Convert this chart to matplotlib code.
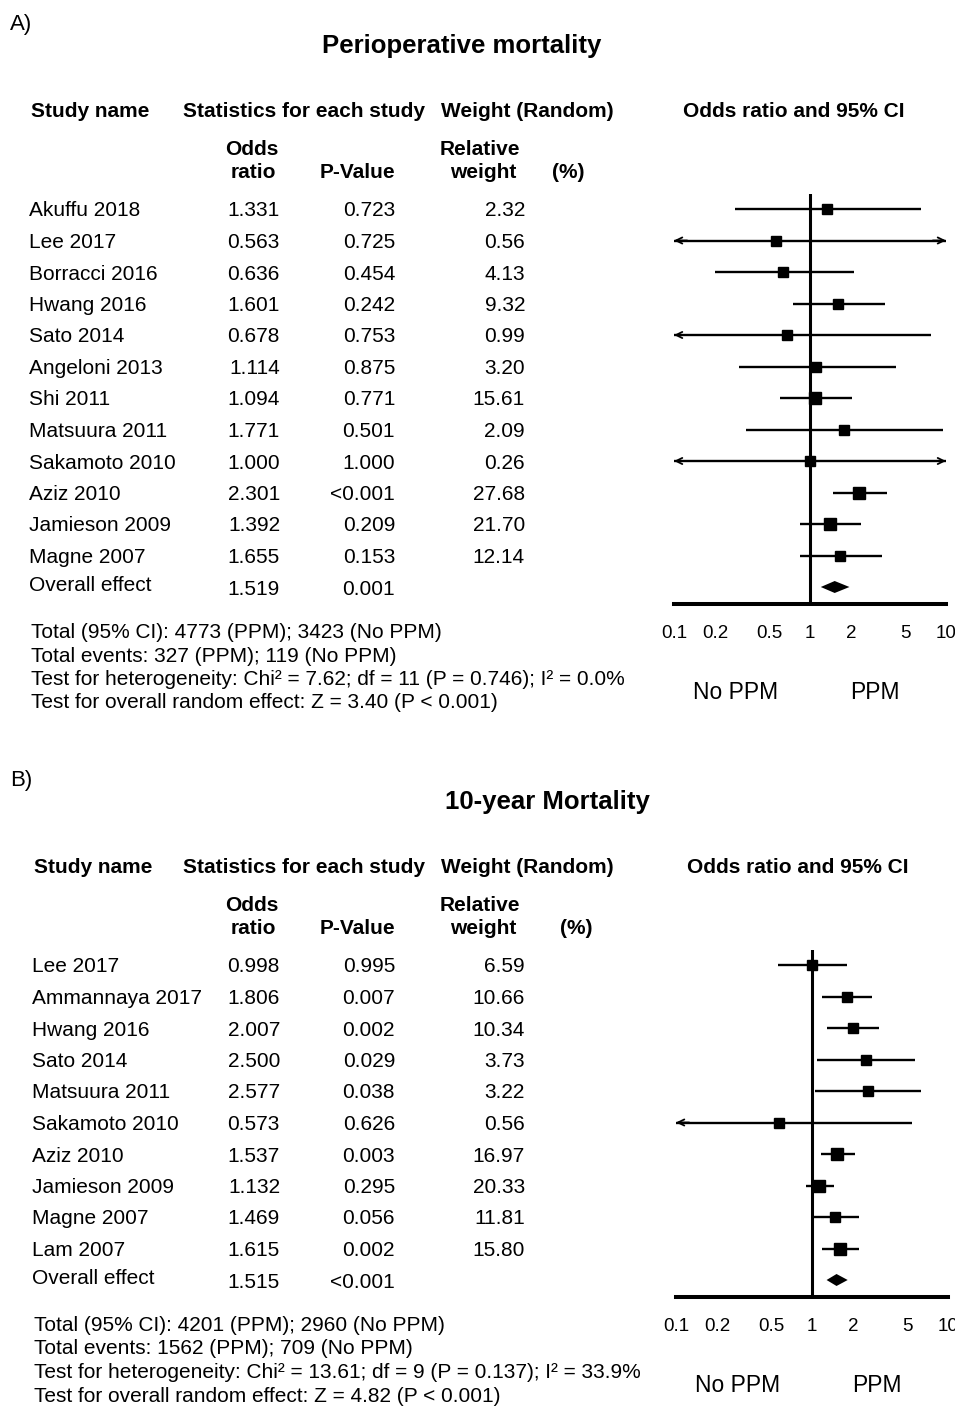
import numpy as np
import matplotlib
matplotlib.use("Agg")
import matplotlib.pyplot as plt
from matplotlib.transforms import blended_transform_factory
from matplotlib.ticker import NullLocator

plt.rcParams["font.family"] = ["Liberation Sans", "DejaVu Sans"]

# ---- data: panel A (perioperative mortality) ----
studies_a = ["Akuffu 2018", "Lee 2017", "Borracci 2016", "Hwang 2016", "Sato 2014",
             "Angeloni 2013", "Shi 2011", "Matsuura 2011", "Sakamoto 2010", "Aziz 2010",
             "Jamieson 2009", "Magne 2007"]
or_a = [1.331, 0.563, 0.636, 1.601, 0.678, 1.114, 1.094, 1.771, 1.000, 2.301, 1.392, 1.655]
p_a = ["0.723", "0.725", "0.454", "0.242", "0.753", "0.875", "0.771", "0.501", "1.000",
       "<0.001", "0.209", "0.153"]
w_a = [2.32, 0.56, 4.13, 9.32, 0.99, 3.20, 15.61, 2.09, 0.26, 27.68, 21.70, 12.14]
lo_a = [0.28, 0.02, 0.20, 0.75, 0.06, 0.30, 0.60, 0.34, 0.03, 1.47, 0.845, 0.845]
hi_a = [6.5, 15.0, 2.12, 3.56, 7.7, 4.3, 2.05, 9.5, 33.0, 3.68, 2.37, 3.36]
overall_a = [1.519, "0.001", 1.20, 1.95]
footer_a = ["Total (95% CI): 4773 (PPM); 3423 (No PPM)",
            "Total events: 327 (PPM); 119 (No PPM)",
            "Test for heterogeneity: Chi² = 7.62; df = 11 (P = 0.746); I² = 0.0%",
            "Test for overall random effect: Z = 3.40 (P < 0.001)"]

# ---- data: panel B (10-year mortality) ----
studies_b = ["Lee 2017", "Ammannaya 2017", "Hwang 2016", "Sato 2014", "Matsuura 2011",
             "Sakamoto 2010", "Aziz 2010", "Jamieson 2009", "Magne 2007", "Lam 2007"]
or_b = [0.998, 1.806, 2.007, 2.500, 2.577, 0.573, 1.537, 1.132, 1.469, 1.615]
p_b = ["0.995", "0.007", "0.002", "0.029", "0.038", "0.626", "0.003", "0.295", "0.056", "0.002"]
w_b = [6.59, 10.66, 10.34, 3.73, 3.22, 0.56, 16.97, 20.33, 11.81, 15.80]
lo_b = [0.56, 1.18, 1.30, 1.09, 1.05, 0.05, 1.16, 0.90, 1.03, 1.18]
hi_b = [1.82, 2.76, 3.13, 5.72, 6.33, 5.43, 2.07, 1.45, 2.20, 2.23]
overall_b = [1.515, "<0.001", 1.28, 1.83]
footer_b = ["Total (95% CI): 4201 (PPM); 2960 (No PPM)",
            "Total events: 1562 (PPM); 709 (No PPM)",
            "Test for heterogeneity: Chi² = 13.61; df = 9 (P = 0.137); I² = 33.9%",
            "Test for overall random effect: Z = 4.82 (P < 0.001)"]

ticks = [0.1, 0.2, 0.5, 1, 2, 5, 10]
tick_labels = ["0.1", "0.2", "0.5", "1", "2", "5", "10"]

W, H = 955, 1407
fig = plt.figure(figsize=(W / 100, H / 100), dpi=100)
FS = 15
ARROW = dict(arrowstyle="->,head_length=0.45,head_width=0.22", lw=1.3, color="black",
             shrinkA=0, shrinkB=0)


def T(x, y, s, **kw):
    kw.setdefault("fontsize", FS)
    kw.setdefault("va", "baseline")
    fig.text(x / W, 1 - y / H, s, **kw)


def panel(letter, title, title_x, top, studies, ors, ps, ws, los, his, overall, footer,
          ax_left, ax_right, name_x, ci_hdr_x, pct_x):
    # top = baseline of the "Study name" header row; the rest is placed relative to it
    row0 = top + 92          # centre of first study row
    step = 31.5
    T(10, top - 87, letter, fontsize=16)
    T(title_x, top - 64, title, fontsize=18.5, weight="bold", ha="center")
    T(name_x, top, "Study name", weight="bold")
    T(183, top, "Statistics for each study", weight="bold")
    T(441, top, "Weight (Random)", weight="bold")
    T(ci_hdr_x, top, "Odds ratio and 95% CI", weight="bold", ha="center")
    T(252, top + 38, "Odds", weight="bold", ha="center")
    T(253, top + 61, "ratio", weight="bold", ha="center")
    T(357, top + 61, "P-Value", weight="bold", ha="center")
    T(480, top + 38, "Relative", weight="bold", ha="center")
    T(483, top + 61, "weight", weight="bold", ha="center")
    T(pct_x, top + 61, "(%)", weight="bold", ha="center")

    n = len(studies)
    for i in range(n):
        yb = row0 + i * step + 7.5
        T(name_x - 2, yb, studies[i])
        T(280, yb, f"{ors[i]:.3f}", ha="right")
        T(395, yb, ps[i], ha="right")
        T(525, yb, f"{ws[i]:.2f}", ha="right")
    yb = row0 + n * step + 7.5
    T(name_x - 2, yb - 3, "Overall effect")
    T(280, yb, f"{overall[0]:.3f}", ha="right")
    T(395, yb, overall[1], ha="right")

    # footer block
    fy = row0 + n * step + 51
    for k, line in enumerate(footer):
        T(name_x, fy + k * 23.5, line)

    # forest axes
    line_y = row0 + n * step + 17
    vtop = row0 - 15
    ax = fig.add_axes([ax_left / W, 1 - line_y / H, (ax_right - ax_left) / W, (line_y - vtop) / H])
    ax.set_xscale("log")
    ax.set_xlim(0.1, 10)
    ax.set_ylim(n + (line_y - (row0 + n * step)) / step, -(row0 - vtop) / step)
    ax.patch.set_visible(False)
    for s in ["top", "left", "right"]:
        ax.spines[s].set_visible(False)
    ax.spines["bottom"].set_linewidth(2.9)
    ax.xaxis.set_minor_locator(NullLocator())
    ax.set_xticks([])
    ax.set_yticks([])
    ax.axvline(1, color="black", lw=2.2)

    for i in range(n):
        a, b = max(los[i], 0.1), min(his[i], 10)
        ax.plot([a, b], [i, i], color="black", lw=1.7, solid_capstyle="butt")
        if los[i] < 0.1:
            ax.annotate("", xy=(0.1, i), xytext=(0.125, i), annotation_clip=False,
                        arrowprops=ARROW)
        if his[i] > 10:
            ax.annotate("", xy=(10, i), xytext=(8, i), annotation_clip=False,
                        arrowprops=ARROW)
        ax.plot(ors[i], i, marker="s", color="black", ms=7.3 + 0.04 * ws[i], zorder=5)

    o, _, olo, ohi = overall
    h = 0.19
    ax.fill([olo, o, ohi, o], [n, n - h, n, n + h], color="black", lw=0, zorder=5)

    tr = blended_transform_factory(ax.transData, fig.transFigure)
    for v, lab in zip(ticks, tick_labels):
        ax.text(v, 1 - (line_y + 34) / H, lab, transform=tr, ha="center", va="baseline",
                fontsize=13.5, clip_on=False)
    ax.text(0.285, 1 - (line_y + 95) / H, "No PPM", transform=tr, ha="center",
            va="baseline", fontsize=16.5)
    ax.text(3.0, 1 - (line_y + 95) / H, "PPM", transform=tr, ha="center", va="baseline",
            fontsize=16.5)


panel("A)", "Perioperative mortality", 462, 117, studies_a, or_a, p_a, w_a, lo_a, hi_a,
      overall_a, footer_a, 674, 946, 31, 794, 568)
panel("B)", "10-year Mortality", 547, 873, studies_b, or_b, p_b, w_b, lo_b, hi_b,
      overall_b, footer_b, 676, 948, 34, 798, 576)

fig.savefig("out.png", dpi=100, facecolor="white")
